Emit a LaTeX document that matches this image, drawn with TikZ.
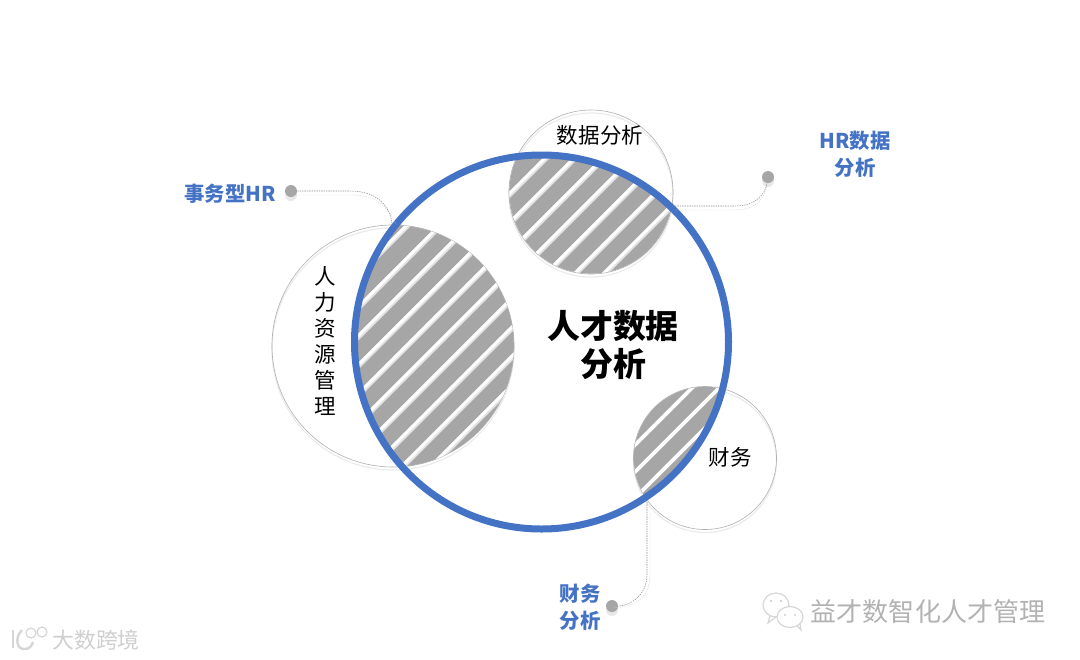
\documentclass[tikz,border=0pt]{standalone}
\usepackage{xcolor}
\usepackage{fontspec}
\setmainfont{Noto Sans CJK SC}
\definecolor{ringblue}{HTML}{4472C4}
\definecolor{stripegray}{HTML}{A6A6A6}

\begin{document}
\begin{tikzpicture}[
    x=0.25mm,
    y=-0.25mm,
    ring/.style={
        circle,
        draw=gray!60,
        line width=0.16mm,
        inner sep=0pt
    },
    halo/.style={
        circle,
        draw=gray!16,
        line width=0.3mm,
        inner sep=0pt
    },
    bigring/.style={
        circle,
        draw=ringblue,
        line width=1.75mm,
        inner sep=0pt,
        minimum size=93.5mm
    },
    tag/.style={
        font=\fontsize{14.5}{19}\selectfont\bfseries,
        text=ringblue,
        align=center,
        inner sep=0pt
    },
    circname/.style={
        font=\fontsize{15.3}{18.5}\selectfont,
        align=center,
        inner sep=0pt
    },
    dot/.style={
        circle,
        fill=stripegray,
        inner sep=0pt,
        minimum size=3mm
    },
    dotshade/.style={
        circle,
        fill=gray!18,
        inner sep=0pt,
        minimum size=3mm
    },
    lead/.style={
        draw=gray!90,
        dash pattern=on 1pt off 0.7pt,
        line width=0.13mm
    },
    leadshade/.style={
        draw=gray!35,
        dash pattern=on 1pt off 0.7pt,
        line width=0.1mm
    },
    wmtext/.style={
        font=\fontsize{18.5}{22}\selectfont,
        text=gray!60,
        inner sep=0pt
    },
    wmline/.style={
        draw=gray!32,
        line width=0.3mm
    }
]
\useasboundingbox (0,0) rectangle (1080,659);

% Soft edges under the small circles
\node[halo,minimum size=60.5mm] at (393,349) {};
\node[halo,minimum size=41mm] at (591,195) {};
\node[halo,minimum size=35.75mm] at (705,461) {};

% Small circles
\node[ring,minimum size=60.5mm] (hr) at (393,346) {};
\node[ring,minimum size=41mm] (data) at (591,192) {};
\node[ring,minimum size=35.75mm] (fin) at (705,458) {};

% Overlap with HR
\begin{scope}
    \clip (541.5,342) circle[radius=46.75mm];
    \clip (393,346) circle[radius=30.2mm];
    \fill[stripegray] (272,225) rectangle (514,467);
    \foreach \s in {632,665,694,723,752,781,810,839,868,897} {
        \draw[gray!22,line width=1.2mm] ({\s+1.5},0) -- ({\s+1.5-1000},1000);
        \draw[white,line width=0.75mm] (\s,0) -- ({\s-1000},1000);
    }
\end{scope}

% Overlap with data analysis
\begin{scope}
    \clip (541.5,342) circle[radius=46.75mm];
    \clip (591,192) circle[radius=20.4mm];
    \fill[stripegray] (509,110) rectangle (673,274);
    \foreach \s in {703,732,761,790,819,848,877} {
        \draw[gray!22,line width=1.2mm] ({\s+1.5},0) -- ({\s+1.5-1000},1000);
        \draw[white,line width=0.75mm] (\s,0) -- ({\s-1000},1000);
    }
\end{scope}

% Overlap with finance
\begin{scope}
    \clip (541.5,342) circle[radius=46.75mm];
    \clip (705,458) circle[radius=17.8mm];
    \fill[stripegray] (633,387) rectangle (776,530);
    \foreach \s in {1080,1107,1133} {
        \draw[white,line width=0.9mm] (\s,0) -- ({\s-1000},1000);
    }
\end{scope}

% Big circle
\node[bigring] (talent) at (541.5,342) {};

% Texts
\node[font=\fontsize{23.4}{27.7}\selectfont\bfseries,align=center,inner sep=0pt] (title) at (613,345) {人才数据\\分析};
\node[circname] (hrname) at (325,341) {人\\力\\资\\源\\管\\理};
\node[circname] (dataname) at (600,135) {数据分析};
\node[circname] (finname) at (730,457) {财务};

% Dots and labels
\node[dotshade] at (291,195) {};
\node[dot] (hrdot) at (291,191) {};
\node[tag] (hrtag) at (230,194) {事务型HR};
\node[dotshade] at (768,181) {};
\node[dot] (datadot) at (768,177) {};
\node[tag] (datatag) at (855,154) {HR数据\\分析};
\node[dotshade] at (612,610) {};
\node[dot] (findot) at (612,606) {};
\node[tag] (fintag) at (580,607) {财务\\分析};

% Leader lines
\coordinate (hrend) at (392,224);
\coordinate (dataend) at (675,206);
\coordinate (finend) at (647,502);
\draw[leadshade] (hrdot) ++(0,4) -- ++(60,0) .. controls (378,195) and (388,208) .. (396,224);
\draw[lead] (hrdot) -- (350,191) .. controls (376,191) and (390,205) .. (hrend);
\draw[leadshade] (dataend) ++(0,4) -- (735,210) .. controls (755,210) and (765,200) .. (datadot);
\draw[lead] (dataend) -- (735,206) .. controls (755,206) and (765,195) .. (datadot);
\draw[leadshade] (findot) ++(1,2) .. controls (632,607) and (650,600) .. (650,575) -- (650,510);
\draw[lead] (finend) -- (647,575) .. controls (647,595) and (630,606) .. (findot);

% Watermark, left
\node[font=\fontsize{15.6}{18}\selectfont,text=gray!38,inner sep=0pt] (leftmark) at (96,640) {大数跨境};
\draw[wmline,line width=0.6mm] (13,630) -- (13,648);
\draw[wmline,line width=0.6mm] (22,630) .. controls (14,638) and (17,650) .. (25,649) .. controls (29,649) and (32,646) .. (33,642);
\draw[wmline] (31,633) circle[radius=5];
\draw[wmline] (42,632) circle[radius=5];

% Watermark, right
\node[wmtext] (rightmark) at (928,612) {益才数智化人才管理};
\draw[wmline] (776,605) ellipse[x radius=13,y radius=12];
\draw[wmline] (770,616) -- (768,623) -- (776,617);
\draw[wmline,fill=white] (790,617) ellipse[x radius=13,y radius=10.5];
\draw[wmline] (797,626) -- (801,630) -- (800,624);
\fill[gray!35] (771,601) circle[radius=1.4] (781,601) circle[radius=1.4] (785,615) circle[radius=1.2] (795,615) circle[radius=1.2];
\end{tikzpicture}
\end{document}
